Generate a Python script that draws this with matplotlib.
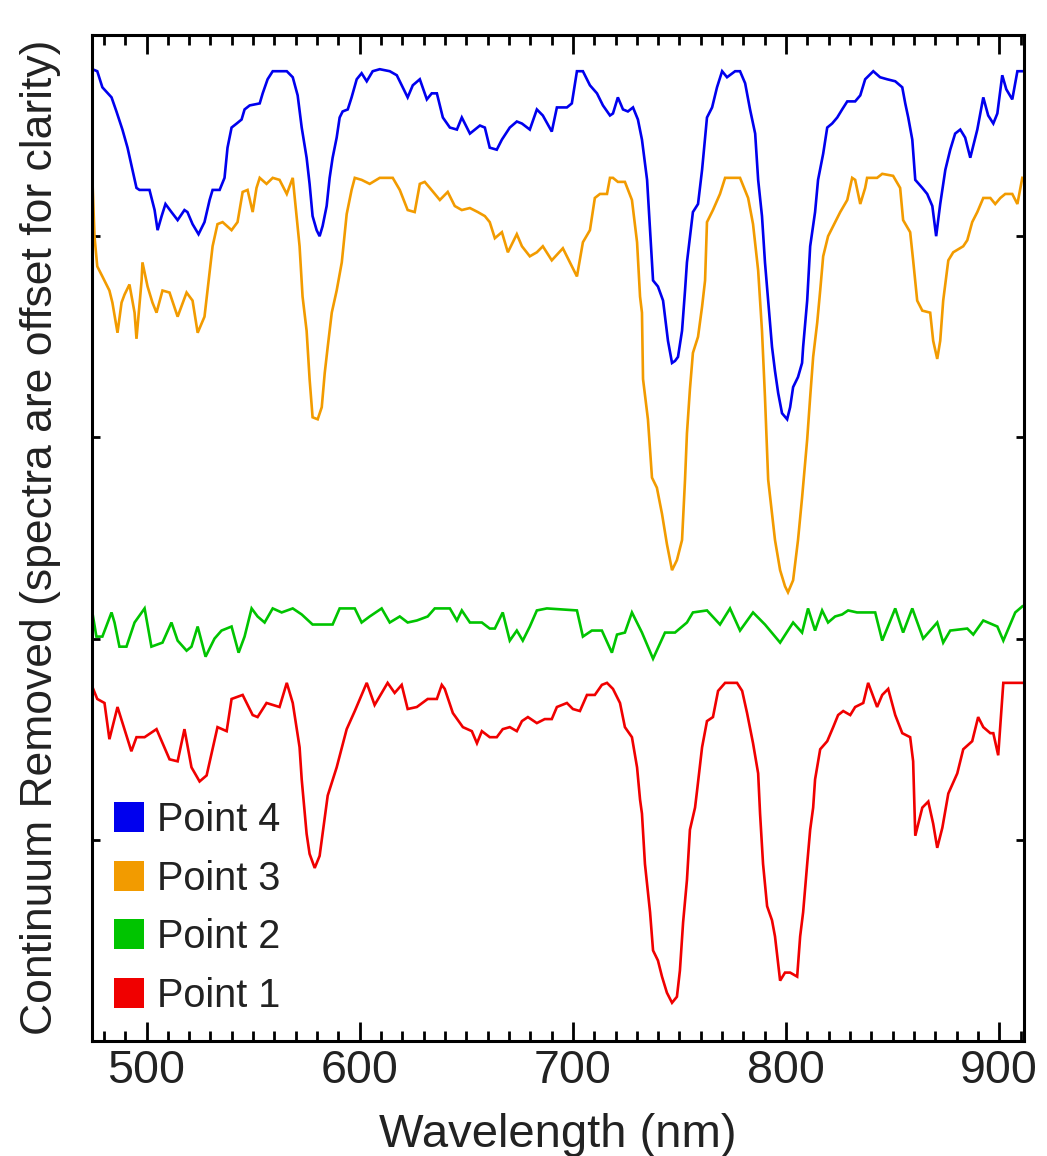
import matplotlib
matplotlib.use("Agg")
import matplotlib.pyplot as plt
from matplotlib.lines import Line2D
from matplotlib.ticker import MultipleLocator, FixedLocator, NullFormatter

plt.rcParams['font.family'] = ['Liberation Sans', 'DejaVu Sans']

# ---------------- data (wavelength nm, offset continuum-removed value) ----------------
p4_x = [474.6, 476.9, 479.3, 483.6, 485.9, 488.7, 491.1, 493.4, 495.3, 496.7, 501.4, 503.8, 505.2, 507.1,
        508.9, 511.7, 514.6, 517.8, 519.2, 521.6, 524.4, 527.2, 529.6, 531.0, 534.3, 536.6, 538.0, 539.9,
        542.3, 544.6, 546.0, 548.4, 553.1, 554.5, 556.8, 559.2, 565.8, 568.6, 570.9, 572.8, 575.1, 576.5,
        577.9, 579.8, 581.2, 582.6, 584.5, 585.9, 587.3, 589.2, 590.6, 592.0, 594.4, 596.2, 598.6, 600.9,
        603.3, 606.1, 609.4, 614.1, 617.4, 620.2, 622.5, 624.9, 628.2, 631.5, 633.8, 636.2, 639.0, 642.3,
        645.6, 647.9, 651.7, 656.4, 658.7, 661.0, 664.3, 666.7, 670.4, 673.7, 676.1, 679.8, 683.1, 685.9,
        690.1, 692.5, 697.2, 699.5, 701.9, 704.7, 708.0, 711.3, 714.1, 717.4, 718.8, 721.1, 723.5, 725.8,
        728.2, 730.5, 732.4, 734.8, 736.2, 737.6, 739.9, 742.3, 744.6, 746.5, 747.9, 749.3, 751.2, 752.6,
        753.5, 756.3, 758.7, 760.6, 762.9, 765.3, 767.6, 770.0, 772.3, 776.1, 778.4, 780.8, 783.1, 785.5,
        786.9, 788.7, 790.1, 791.6, 793.4, 794.8, 796.3, 798.1, 800.5, 801.9, 803.3, 805.6, 807.5, 808.0,
        809.9, 811.3, 813.6, 815.0, 817.4, 819.3, 821.6, 824.0, 826.3, 828.7, 832.4, 834.8, 837.1, 840.9,
        844.1, 847.4, 851.2, 854.5, 855.9, 857.3, 859.2, 860.6, 863.9, 866.2, 868.6, 870.4, 872.3, 874.7,
        877.0, 879.3, 881.7, 884.0, 886.4, 889.7, 892.5, 894.8, 897.2, 899.1, 901.4, 903.3, 906.1, 908.5,
        911.3]
p4_y = [4.83, 4.82, 4.74, 4.69, 4.62, 4.53, 4.44, 4.33, 4.24, 4.23, 4.23, 4.13, 4.03, 4.10,
        4.16, 4.12, 4.08, 4.13, 4.12, 4.06, 4.01, 4.07, 4.18, 4.23, 4.23, 4.29, 4.44, 4.54,
        4.56, 4.58, 4.63, 4.65, 4.66, 4.71, 4.78, 4.82, 4.82, 4.79, 4.70, 4.54, 4.39, 4.26,
        4.10, 4.03, 4.00, 4.05, 4.15, 4.29, 4.39, 4.49, 4.59, 4.62, 4.63, 4.69, 4.78, 4.81,
        4.77, 4.82, 4.83, 4.82, 4.80, 4.74, 4.69, 4.75, 4.78, 4.68, 4.71, 4.71, 4.59, 4.54,
        4.53, 4.59, 4.51, 4.55, 4.54, 4.44, 4.43, 4.48, 4.54, 4.57, 4.56, 4.53, 4.63, 4.60,
        4.52, 4.64, 4.64, 4.66, 4.82, 4.82, 4.75, 4.71, 4.65, 4.60, 4.61, 4.69, 4.63, 4.62,
        4.64, 4.58, 4.48, 4.28, 4.03, 3.78, 3.75, 3.68, 3.48, 3.37, 3.38, 3.40, 3.53, 3.73,
        3.87, 4.12, 4.16, 4.33, 4.59, 4.64, 4.74, 4.82, 4.79, 4.82, 4.82, 4.76, 4.63, 4.51,
        4.28, 4.10, 3.87, 3.68, 3.45, 3.33, 3.22, 3.12, 3.09, 3.15, 3.25, 3.30, 3.37, 3.45,
        3.68, 3.95, 4.12, 4.28, 4.41, 4.54, 4.56, 4.59, 4.63, 4.67, 4.67, 4.70, 4.78, 4.82,
        4.79, 4.78, 4.77, 4.74, 4.66, 4.59, 4.48, 4.28, 4.24, 4.21, 4.15, 4.00, 4.16, 4.33,
        4.43, 4.51, 4.53, 4.49, 4.39, 4.53, 4.69, 4.60, 4.56, 4.61, 4.80, 4.73, 4.68, 4.82,
        4.82]

p3_x = [474.6, 475.6, 476.9, 479.3, 482.6, 484.0, 486.4, 488.3, 489.7, 492.0, 494.4, 495.3, 497.7, 498.1,
        500.5, 502.8, 504.7, 507.5, 510.8, 514.6, 518.8, 521.6, 524.0, 527.2, 529.6, 531.0, 533.3, 535.7,
        539.9, 542.7, 545.1, 547.4, 549.8, 551.6, 553.1, 556.3, 559.2, 562.4, 565.8, 568.6, 571.8, 573.2,
        575.1, 576.5, 577.9, 580.3, 582.2, 583.6, 585.0, 586.9, 589.2, 591.6, 593.9, 596.2, 597.7, 600.9,
        604.7, 609.4, 615.5, 618.8, 622.5, 625.8, 628.2, 630.5, 632.9, 637.6, 641.3, 644.6, 647.9, 651.7,
        655.4, 658.7, 661.0, 663.4, 666.7, 669.5, 673.7, 676.1, 679.8, 683.1, 685.9, 690.1, 695.3, 698.6,
        701.9, 704.7, 708.0, 710.3, 712.7, 716.0, 717.4, 718.8, 721.1, 724.4, 727.7, 730.1, 731.5, 732.4,
        732.9, 735.2, 737.1, 739.4, 741.8, 744.1, 746.5, 748.8, 751.2, 752.6, 753.5, 754.9, 756.3, 758.7,
        760.6, 762.0, 762.9, 765.7, 769.0, 771.4, 778.4, 782.2, 784.5, 786.9, 788.7, 790.1, 791.6, 793.4,
        794.8, 797.2, 799.5, 800.9, 803.3, 805.6, 807.5, 809.9, 811.3, 812.7, 814.6, 816.0, 817.4, 819.7,
        823.0, 825.4, 828.7, 831.0, 832.4, 834.8, 837.1, 838.0, 842.7, 845.1, 850.2, 853.5, 854.9, 858.2,
        859.6, 861.5, 863.9, 867.6, 869.0, 870.9, 872.3, 873.7, 876.1, 878.4, 883.1, 885.0, 887.3, 889.7,
        892.5, 895.8, 898.1, 900.5, 902.8, 906.1, 908.5, 910.8]
p3_y = [4.29, 4.00, 3.85, 3.80, 3.73, 3.67, 3.52, 3.67, 3.71, 3.76, 3.62, 3.49, 3.78, 3.87,
        3.75, 3.67, 3.62, 3.73, 3.72, 3.60, 3.72, 3.68, 3.52, 3.60, 3.82, 3.95, 4.06, 4.07,
        4.03, 4.07, 4.22, 4.23, 4.12, 4.24, 4.29, 4.26, 4.29, 4.28, 4.21, 4.29, 3.95, 3.70,
        3.53, 3.29, 3.10, 3.09, 3.15, 3.32, 3.45, 3.62, 3.73, 3.87, 4.11, 4.23, 4.29, 4.28,
        4.26, 4.29, 4.29, 4.23, 4.13, 4.12, 4.26, 4.27, 4.24, 4.18, 4.22, 4.15, 4.13, 4.14,
        4.12, 4.10, 4.07, 3.99, 4.02, 3.92, 4.01, 3.95, 3.90, 3.92, 3.95, 3.88, 3.94, 3.87,
        3.80, 3.97, 4.03, 4.19, 4.21, 4.21, 4.29, 4.29, 4.27, 4.27, 4.18, 3.97, 3.70, 3.62,
        3.29, 3.09, 2.80, 2.75, 2.62, 2.47, 2.34, 2.39, 2.49, 2.79, 3.02, 3.24, 3.42, 3.50,
        3.65, 3.78, 4.07, 4.13, 4.21, 4.29, 4.29, 4.19, 4.06, 3.83, 3.53, 3.20, 2.79, 2.62,
        2.49, 2.34, 2.26, 2.23, 2.29, 2.49, 2.70, 2.99, 3.20, 3.40, 3.57, 3.73, 3.90, 4.00,
        4.07, 4.12, 4.18, 4.29, 4.28, 4.16, 4.24, 4.29, 4.29, 4.31, 4.30, 4.24, 4.08, 4.02,
        3.88, 3.68, 3.63, 3.62, 3.48, 3.39, 3.48, 3.68, 3.88, 3.92, 3.95, 3.98, 4.07, 4.12,
        4.19, 4.19, 4.16, 4.19, 4.21, 4.21, 4.16, 4.29]

p2_x = [474.6, 476.5, 479.3, 483.6, 485.0, 487.3, 490.6, 494.4, 499.1, 502.3, 507.5, 511.7, 514.6, 518.8,
        521.1, 524.0, 527.7, 531.9, 535.2, 539.9, 543.2, 546.0, 549.3, 552.1, 555.4, 559.2, 563.4, 568.6,
        572.8, 577.9, 587.3, 590.6, 597.7, 600.9, 604.7, 610.3, 614.1, 618.8, 622.5, 626.8, 631.9, 635.2,
        642.3, 645.6, 647.9, 651.7, 657.3, 661.0, 663.4, 667.1, 670.4, 673.7, 676.5, 679.8, 683.1, 687.8,
        701.9, 704.7, 708.9, 713.6, 718.3, 720.7, 724.4, 727.7, 732.4, 737.6, 743.2, 747.9, 753.5, 756.3,
        762.9, 769.0, 773.7, 778.4, 784.5, 790.1, 797.2, 803.3, 807.5, 810.3, 813.6, 816.9, 819.7, 823.0,
        826.3, 829.1, 833.3, 841.8, 845.1, 851.2, 854.9, 859.2, 864.3, 870.9, 873.7, 877.0, 885.0, 887.8,
        892.5, 899.1, 901.9, 907.5, 910.8]
p2_y = [2.13, 2.01, 2.01, 2.13, 2.08, 1.96, 1.96, 2.08, 2.15, 1.96, 1.98, 2.08, 1.99, 1.94,
        1.96, 2.06, 1.91, 2.00, 2.04, 2.06, 1.93, 2.01, 2.15, 2.11, 2.08, 2.15, 2.13, 2.15,
        2.12, 2.07, 2.07, 2.15, 2.15, 2.08, 2.11, 2.15, 2.08, 2.11, 2.08, 2.09, 2.11, 2.15,
        2.15, 2.09, 2.14, 2.08, 2.08, 2.05, 2.05, 2.13, 1.99, 2.04, 1.99, 2.06, 2.14, 2.15,
        2.14, 2.01, 2.04, 2.04, 1.93, 2.02, 2.03, 2.13, 2.03, 1.90, 2.03, 2.03, 2.08, 2.13,
        2.14, 2.07, 2.15, 2.04, 2.13, 2.07, 1.98, 2.08, 2.03, 2.15, 2.04, 2.14, 2.08, 2.11,
        2.12, 2.14, 2.13, 2.13, 1.99, 2.15, 2.03, 2.15, 2.00, 2.08, 1.98, 2.04, 2.05, 2.02,
        2.09, 2.06, 1.99, 2.13, 2.16]

p1_x = [474.6, 476.9, 480.3, 482.6, 486.4, 492.9, 495.3, 499.1, 504.7, 510.8, 514.6, 517.8, 521.1, 524.9,
        528.2, 533.3, 537.6, 539.9, 545.1, 549.8, 552.1, 556.3, 562.4, 565.8, 568.6, 571.8, 572.8, 575.1,
        576.5, 578.9, 581.2, 583.6, 585.0, 589.2, 593.9, 597.7, 603.3, 607.0, 613.1, 616.4, 619.7, 622.5,
        626.8, 631.9, 636.2, 638.5, 639.9, 643.7, 648.4, 652.6, 655.0, 657.3, 661.0, 664.3, 667.1, 670.4,
        673.7, 676.1, 678.9, 683.1, 686.8, 690.1, 692.5, 697.2, 700.0, 703.3, 706.6, 710.3, 713.6, 716.0,
        718.8, 722.1, 724.4, 727.7, 730.1, 731.5, 732.4, 733.8, 736.2, 737.6, 739.9, 741.8, 744.1, 746.5,
        748.8, 750.2, 751.7, 753.5, 754.9, 757.3, 758.2, 760.6, 762.9, 765.7, 768.1, 771.4, 777.0, 779.4,
        781.7, 784.5, 786.9, 787.8, 789.2, 791.1, 793.4, 794.8, 797.2, 799.5, 801.9, 805.2, 806.6, 808.0,
        809.9, 811.3, 812.7, 813.6, 816.0, 819.3, 822.1, 824.4, 826.8, 830.1, 832.4, 836.2, 838.5, 842.7,
        845.1, 847.9, 851.2, 854.5, 858.2, 859.6, 860.6, 863.9, 866.7, 869.0, 870.9, 873.3, 876.1, 880.3,
        883.1, 887.3, 890.1, 892.5, 895.8, 897.2, 899.5, 901.9, 905.2, 910.8]
p1_y = [1.76, 1.70, 1.68, 1.50, 1.66, 1.44, 1.51, 1.51, 1.55, 1.40, 1.39, 1.55, 1.36, 1.29,
        1.32, 1.56, 1.54, 1.70, 1.72, 1.62, 1.61, 1.68, 1.66, 1.78, 1.68, 1.46, 1.30, 1.03,
        0.93, 0.86, 0.92, 1.11, 1.22, 1.36, 1.55, 1.64, 1.78, 1.67, 1.78, 1.73, 1.77, 1.65,
        1.66, 1.70, 1.70, 1.77, 1.75, 1.63, 1.56, 1.54, 1.48, 1.54, 1.51, 1.51, 1.55, 1.56,
        1.54, 1.59, 1.61, 1.58, 1.60, 1.60, 1.66, 1.68, 1.65, 1.64, 1.72, 1.72, 1.77, 1.78,
        1.75, 1.68, 1.56, 1.51, 1.36, 1.20, 1.13, 0.88, 0.64, 0.45, 0.40, 0.32, 0.24, 0.19,
        0.22, 0.35, 0.59, 0.80, 1.05, 1.16, 1.24, 1.46, 1.59, 1.61, 1.74, 1.78, 1.78, 1.74,
        1.63, 1.48, 1.33, 1.13, 0.88, 0.67, 0.60, 0.52, 0.30, 0.34, 0.34, 0.32, 0.52, 0.64,
        0.88, 1.05, 1.16, 1.30, 1.45, 1.49, 1.56, 1.62, 1.64, 1.62, 1.66, 1.68, 1.78, 1.66,
        1.72, 1.75, 1.62, 1.53, 1.51, 1.39, 1.02, 1.16, 1.19, 1.08, 0.96, 1.06, 1.23, 1.33,
        1.45, 1.49, 1.61, 1.56, 1.53, 1.53, 1.42, 1.78, 1.78, 1.78]

labels = ["Point 4", "Point 3", "Point 2", "Point 1"]
colors = ["#0000EE", "#F29B00", "#00C400", "#F00000"]
x_ticks = [500, 600, 700, 800, 900]
y_ticks = [1, 2, 3, 4]

# ---------------- figure ----------------
W, H = 1047, 1156
fig = plt.figure(figsize=(W / 100, H / 100), dpi=100)
ax = fig.add_axes([91.5 / W, 1 - 1041 / H, (1024 - 91.5) / W, (1041 - 35) / H])

series = [(p4_x, p4_y), (p3_x, p3_y), (p2_x, p2_y), (p1_x, p1_y)]
for (xs, ys), c in zip(series, colors):
    ax.plot(xs, ys, color=c, lw=1.9, solid_joinstyle='miter')

ax.set_xlim(474.2, 911.6)
ax.set_ylim(0, 5)

ax.xaxis.set_major_locator(FixedLocator(x_ticks))
ax.xaxis.set_minor_locator(MultipleLocator(10))
ax.yaxis.set_major_locator(FixedLocator(y_ticks))
ax.yaxis.set_major_formatter(NullFormatter())
ax.yaxis.set_minor_locator(FixedLocator([]))

ax.tick_params(axis='x', which='major', direction='in', top=True, bottom=True,
               length=14, width=2.0, labelsize=33.5, pad=6, labelcolor='#222222')
ax.tick_params(axis='x', which='minor', direction='in', top=True, bottom=True,
               length=7, width=2.0)
ax.tick_params(axis='y', which='major', direction='in', left=True, right=True,
               length=6, width=2.0)
for s in ax.spines.values():
    s.set_linewidth(2.2)

fig.text(41 / W, 1 - 537 / H, "Continuum Removed (spectra are offset for clarity)",
         rotation=90, ha='center', va='center', fontsize=32, color='#222222')
fig.text(558 / W, 1 - 1147 / H, "Wavelength (nm)", ha='center', va='baseline',
         fontsize=34, color='#222222')

handles = [Line2D([], [], ls='none', marker='s', ms=21, color=c, markeredgewidth=0) for c in colors]
ax.legend(handles, labels, loc='lower left', bbox_to_anchor=(0.0227, 0.026),
          frameon=False, fontsize=28.5, handlelength=0.8, handletextpad=0.32,
          labelspacing=0.52, borderpad=0, borderaxespad=0, labelcolor='#222222')

fig.savefig("out.png", dpi=100)
